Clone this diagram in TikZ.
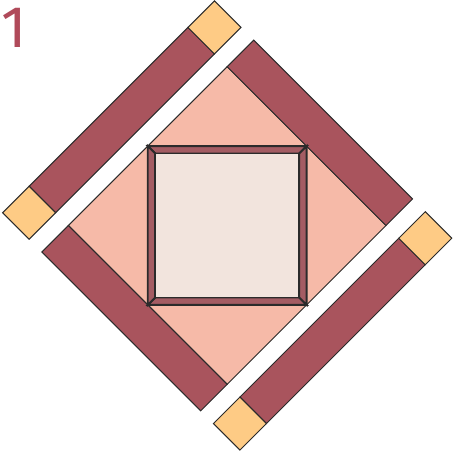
\documentclass[tikz,border=0pt]{standalone}
\usepackage{fontspec}
\setmainfont{Fira Sans}
\definecolor{bandred}{HTML}{A9545D}
\definecolor{framered}{HTML}{A45C63}
\definecolor{salmon}{HTML}{F6BAA8}
\definecolor{centerfill}{HTML}{F2E4DD}
\definecolor{corner}{HTML}{FECB85}
\definecolor{outline}{HTML}{2B2B2B}
\definecolor{labelred}{HTML}{B04A5A}
\tikzset{
  piece/.style={draw=outline, line width=0.75pt, line join=miter},
  band/.style={piece, fill=bandred},
  cornerstone/.style={piece, fill=corner},
  tri/.style={piece, fill=salmon},
  framepart/.style={draw=outline, line width=1.4pt, fill=framered, line join=miter},
}
\begin{document}
\begin{tikzpicture}[x=0.75pt,y=0.75pt]
\useasboundingbox (0,0) rectangle (453,452);
\def\l{112.3}
\def\w{37.5}
\def\g{18}
\begin{scope}[shift={(227.2,226.5)}, rotate=45]
  % diamond
  \draw[tri] (-\l,-\l) rectangle (\l,\l);
  % attached bands
  \draw[band] (\l,-\l) rectangle (\l+\w,\l);
  \draw[band] (-\l-\w,-\l) rectangle (-\l,\l);
  % upper-left strip
  \draw[band] (-\l,\l+\g) rectangle (\l,\l+\g+\w);
  \draw[cornerstone] (-\l-\w,\l+\g) rectangle (-\l,\l+\g+\w);
  \draw[cornerstone] (\l,\l+\g) rectangle (\l+\w,\l+\g+\w);
  % lower-right strip
  \draw[band] (-\l,-\l-\g-\w) rectangle (\l,-\l-\g);
  \draw[cornerstone] (-\l-\w,-\l-\g-\w) rectangle (-\l,-\l-\g);
  \draw[cornerstone] (\l,-\l-\g-\w) rectangle (\l+\w,-\l-\g);
\end{scope}
\begin{scope}[shift={(227.2,226.5)}]
  \def\so{79.4}
  \def\si{72}
  \draw[framepart] (-\so,\so) -- (\so,\so) -- (\si,\si) -- (-\si,\si) -- cycle;
  \draw[framepart] (-\so,-\so) -- (\so,-\so) -- (\si,-\si) -- (-\si,-\si) -- cycle;
  \draw[framepart] (-\so,-\so) -- (-\so,\so) -- (-\si,\si) -- (-\si,-\si) -- cycle;
  \draw[framepart] (\so,-\so) -- (\so,\so) -- (\si,\si) -- (\si,-\si) -- cycle;
  \draw[draw=outline, line width=1.4pt, fill=centerfill] (-\si,-\si) rectangle (\si,\si);
\end{scope}
\node[text=labelred, font=\fontsize{44}{44}\selectfont, inner sep=0pt, anchor=center] (label) at (14.5,424.5) {1};
\end{tikzpicture}
\end{document}
